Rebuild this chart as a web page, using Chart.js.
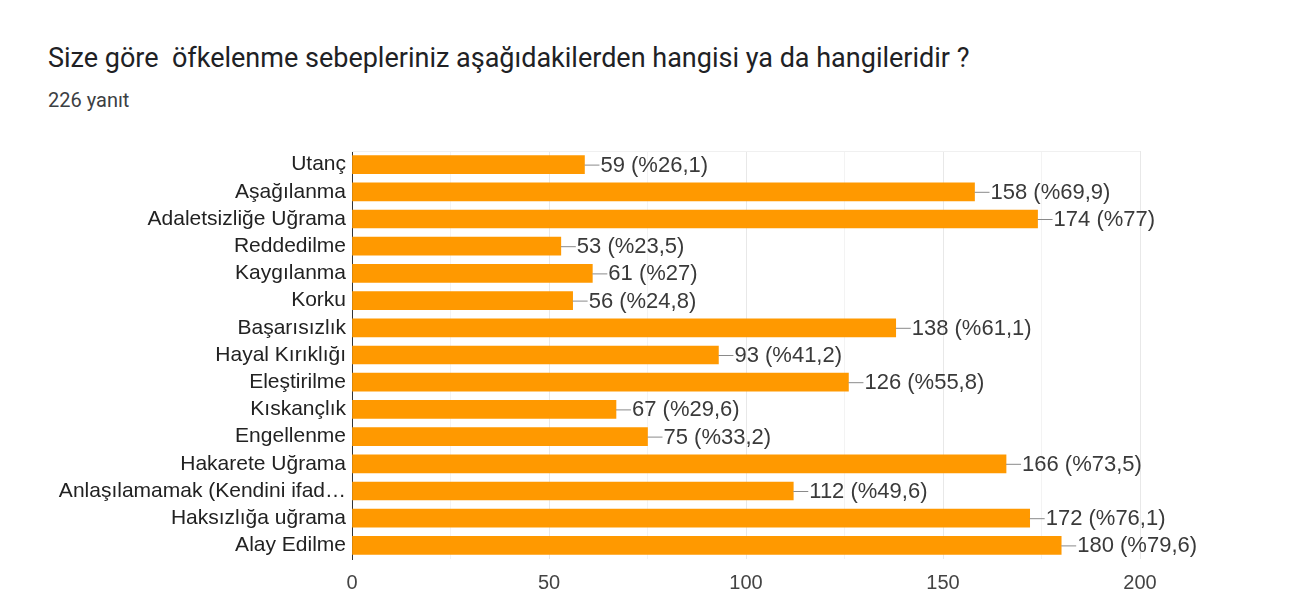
<!DOCTYPE html>
<html>
<head>
<meta charset="utf-8">
<script src="https://cdn.jsdelivr.net/npm/chart.js@4.4.1/dist/chart.umd.min.js"></script>
<style>
  html, body { margin: 0; padding: 0; background: #fff; }
  #wrap { position: relative; width: 1300px; height: 599px; }
  #title { position: absolute; left: 48px; top: 41px; font: 27px Roboto, Arial, sans-serif; color: #202124; white-space: pre; line-height: 34px; }
  #sub { position: absolute; left: 48px; top: 87px; font: 20px Roboto, Arial, sans-serif; color: #3c4043; line-height: 26px; }
  #c { position: absolute; left: 0; top: 0; }
</style>
</head>
<body>
<div id="wrap">
  <div id="title">Size göre  öfkelenme sebepleriniz aşağıdakilerden hangisi ya da hangileridir ?</div>
  <div id="sub">226 yanıt</div>
  <canvas id="c" width="1300" height="599"></canvas>
</div>
<script>
// survey answers, one bar per option
const categories = [
  'Utanç', 'Aşağılanma', 'Adaletsizliğe Uğrama', 'Reddedilme', 'Kaygılanma', 'Korku',
  'Başarısızlık', 'Hayal Kırıklığı', 'Eleştirilme', 'Kıskançlık', 'Engellenme',
  'Hakarete Uğrama', 'Anlaşılamamak (Kendini ifad…', 'Haksızlığa uğrama', 'Alay Edilme'
];
const counts = [59, 158, 174, 53, 61, 56, 138, 93, 126, 67, 75, 166, 112, 172, 180];
const percents = ['26,1', '69,9', '77', '23,5', '27', '24,8', '61,1', '41,2', '55,8', '29,6', '33,2', '73,5', '49,6', '76,1', '79,6'];
const xTicks = [0, 50, 100, 150, 200];

const FONT = "'Liberation Sans', Arial, sans-serif";

// value labels with a short leader line after each bar
const valueLabels = {
  id: 'valueLabels',
  afterDatasetsDraw(chart) {
    const ctx = chart.ctx;
    const meta = chart.getDatasetMeta(0);
    ctx.save();
    ctx.font = '22px ' + FONT;
    ctx.textBaseline = 'middle';
    meta.data.forEach((bar, i) => {
      const x = bar.x, y = bar.y;
      ctx.strokeStyle = '#8a8a8a';
      ctx.lineWidth = 1;
      ctx.beginPath();
      ctx.moveTo(x, y + 0.5);
      ctx.lineTo(x + 15, y + 0.5);
      ctx.stroke();
      ctx.fillStyle = '#3a3a3a';
      ctx.fillText(counts[i] + ' (%' + percents[i] + ')', x + 16, y + 1);
    });
    ctx.restore();
  }
};

// faint frame line along the top of the plot
const topFrame = {
  id: 'topFrame',
  beforeDatasetsDraw(chart) {
    const a = chart.chartArea, ctx = chart.ctx;
    ctx.save();
    ctx.strokeStyle = '#f0f0f0';
    ctx.beginPath();
    ctx.moveTo(a.left, a.top + 0.5);
    ctx.lineTo(a.right, a.top + 0.5);
    ctx.stroke();
    ctx.restore();
  }
};

new Chart(document.getElementById('c').getContext('2d'), {
  type: 'bar',
  data: {
    labels: categories,
    datasets: [{ data: counts, backgroundColor: '#ff9900', barThickness: 18 }]
  },
  options: {
    indexAxis: 'y',
    responsive: false,
    animation: false,
    layout: { padding: { top: 151, right: 160, left: 0, bottom: 0 } },
    plugins: { legend: { display: false }, tooltip: { enabled: false } },
    scales: {
      x: {
        min: xTicks[0],
        max: xTicks[xTicks.length - 1],
        ticks: {
          stepSize: 25,
          padding: 12,
          color: '#444',
          font: { family: FONT, size: 20 },
          callback: v => (xTicks.includes(v) ? v : '')
        },
        grid: {
          color: c => (c.tick && c.tick.value % 50 === 0 ? '#e8e8e8' : '#f3f3f3'),
          drawTicks: false
        },
        border: { display: false },
        afterFit: s => { s.height = 40; }
      },
      y: {
        ticks: {
          color: '#222',
          padding: 6,
          autoSkip: false,
          font: { family: FONT, size: 21 }
        },
        grid: { display: false, drawTicks: false },
        border: { display: true, color: '#333', width: 1 },
        afterFit: s => { s.width = 352; }
      }
    }
  },
  plugins: [valueLabels, topFrame]
});
</script>
</body>
</html>
